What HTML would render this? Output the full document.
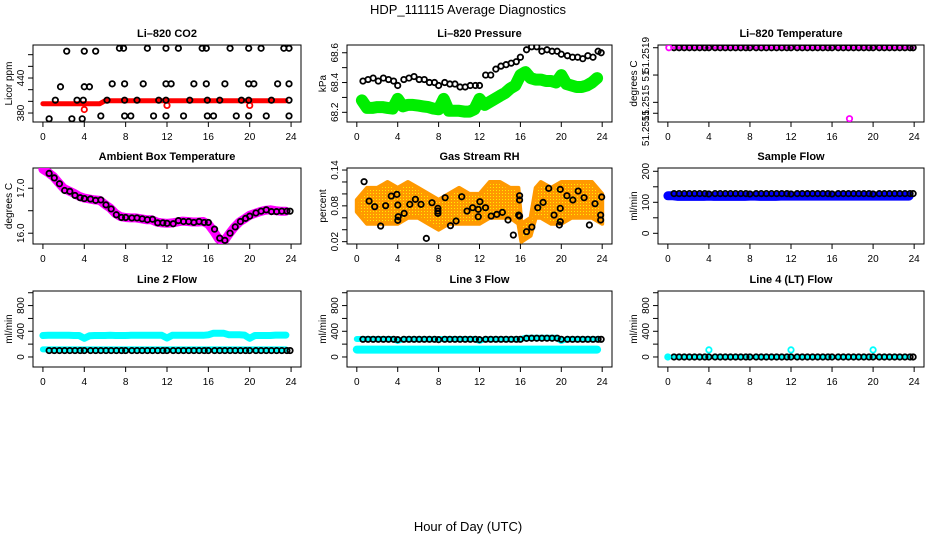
<!DOCTYPE html>
<html><head><meta charset="utf-8"><style>
body{margin:0;background:#fff}
svg{display:block;font-family:"Liberation Sans",sans-serif}
</style></head><body>
<svg id="chart" width="936" height="540" xmlns="http://www.w3.org/2000/svg">
<defs>
<pattern id="rhdots" width="3" height="3" patternUnits="userSpaceOnUse"><rect width="3" height="3" fill="#ff9900"/><rect x="1" y="1" width="1" height="1" fill="#ffee00"/></pattern>
</defs>
<text x="468" y="14" text-anchor="middle" font-size="13">HDP_111115  Average Diagnostics</text>
<text x="468" y="531" text-anchor="middle" font-size="13">Hour of Day (UTC)</text>
</svg>
<script>
// ---------- data ----------
const xTicks = [0,4,8,12,16,20,24];
const hoursB = [0.6,1.1,1.6,2.1,2.6,3.1,3.6,4.0,4.6,5.1,5.6,6.1,6.6,7.1,7.6,8.0,8.6,9.1,9.6,10.1,10.6,11.1,11.6,12.0,12.6,13.1,13.6,14.1,14.6,15.1,15.6,16.0,16.6,17.1,17.6,18.1,18.6,19.1,19.6,20.0,20.6,21.1,21.6,22.1,22.6,23.1,23.6,23.9];
const hoursBand = [0,0.5,1,1.5,2,2.5,3,3.5,4,4.5,5,5.5,6,6.5,7,7.5,8,8.5,9,9.5,10,10.5,11,11.5,12,12.5,13,13.5,14,14.5,15,15.5,16,16.5,17,17.5,18,18.5,19,19.5,20,20.5,21,21.5,22,22.5,23,23.5,24];

// Panel 1 CO2
const co2Hours = [7.4,7.8,10.1,11.9,13.1,15.4,15.8,18.1,19.9,21.1,23.3,23.8, 2.3,4.0,5.1, 1.7,4.0,4.5, 6.7,7.9,9.7,11.9,12.4,14.6,15.8,17.6,19.9,20.4,22.7,23.8, 1.2,3.3,3.9,6.2,7.9,9.1,11.2,11.9,14.2,15.9,17.1,19.2,19.9,22.1,23.8, 5.6,7.9,8.5,10.7,11.9,13.6,15.9,16.5,18.7,19.9,21.6,23.8, 0.6,2.8,3.8];
const co2Black = [491,491,491,491,491,491,491,491,491,491,491,491, 486,486,486, 425,425,425, 430,430,430,430,430,430,430,430,430,430,430,430, 402,402,402,402,402,402,402,402,402,402,402,402,402,402,402, 375,375,375,375,375,375,375,375,375,375,375,375, 370,370,370];
const co2Red = [396,396,396,396,396,396,396,396,396,396,396,396,401,401,401,401,401,401,401,401,401,401,401,401,401,401,401,401,401,401,401,401,401,401,401,401,401,401,401,401,401,401,401,401,401,401,401,401,401];
const co2RedPtHours = [4,12,20];
const co2RedPts = [386,393,393];

// Panel 2 pressure
const presBlack = [68.41,68.42,68.43,68.41,68.43,68.42,68.41,68.38,68.42,68.43,68.44,68.42,68.42,68.40,68.40,68.38,68.40,68.39,68.39,68.37,68.37,68.38,68.38,68.38,68.45,68.45,68.49,68.51,68.52,68.53,68.54,68.57,68.62,68.64,68.64,68.61,68.62,68.61,68.61,68.59,68.58,68.57,68.57,68.56,68.58,68.57,68.61,68.60];
const presGreen = [68.28,68.28,68.23,68.23,68.235,68.235,68.23,68.225,68.29,68.24,68.25,68.25,68.245,68.24,68.235,68.225,68.22,68.29,68.21,68.21,68.21,68.205,68.205,68.22,68.29,68.25,68.27,68.29,68.31,68.33,68.36,68.38,68.45,68.47,68.43,68.42,68.42,68.41,68.41,68.40,68.45,68.39,68.38,68.37,68.37,68.38,68.40,68.43,68.43];

// Panel 3 Li-820 temperature
const tempBlack = [51.2519,51.2519,51.2519,51.2519,51.2519,51.2519,51.2519,51.2519,51.2519,51.2519,51.2519,51.2519,51.2519,51.2519,51.2519,51.2519,51.2519,51.2519,51.2519,51.2519,51.2519,51.2519,51.2519,51.2519,51.2519,51.2519,51.2519,51.2519,51.2519,51.2519,51.2519,51.2519,51.2519,51.2519,51.2519,51.2519,51.2519,51.2519,51.2519,51.2519,51.2519,51.2519,51.2519,51.2519,51.2519,51.2519,51.2519,51.2519];
const tempMagHours = [0.1,17.7];
const tempMag = [51.2519,51.25138];

// Panel 4 ambient
const ambBlack = [17.33,17.23,17.10,16.95,16.93,16.84,16.79,16.77,16.76,16.73,16.74,16.63,16.54,16.41,16.35,16.35,16.34,16.34,16.32,16.30,16.31,16.23,16.23,16.22,16.21,16.28,16.26,16.26,16.24,16.26,16.24,16.24,16.09,15.89,15.84,16.00,16.14,16.26,16.33,16.38,16.45,16.49,16.52,16.48,16.48,16.49,16.49,16.49];
const ambMag = [17.42,17.35,17.26,17.13,17.0,16.94,16.89,16.82,16.78,16.76,16.74,16.73,16.64,16.56,16.44,16.37,16.35,16.34,16.34,16.32,16.3,16.3,16.25,16.23,16.22,16.23,16.25,16.27,16.26,16.25,16.25,16.26,16.2,16.05,15.87,15.82,15.98,16.13,16.25,16.32,16.4,16.44,16.48,16.51,16.52,16.5,16.49,16.49,16.49];

// Panel 5 RH
const rhBandHours = [0,1,2,3,4,5,6,7,8,9,10,11,12,13,14,15,15.8,16.1,17,17.5,18,19,20,21,22,23,24];
const rhLow = [0.07,0.05,0.05,0.05,0.05,0.06,0.06,0.05,0.04,0.05,0.05,0.05,0.05,0.06,0.06,0.06,0.05,0.02,0.03,0.06,0.06,0.05,0.05,0.06,0.06,0.06,0.05];
const rhHigh = [0.09,0.11,0.11,0.12,0.11,0.12,0.11,0.10,0.09,0.10,0.11,0.10,0.10,0.12,0.12,0.11,0.11,0.05,0.06,0.11,0.12,0.11,0.12,0.12,0.12,0.12,0.10];
const rhHours = [0.71,1.20,1.75,2.33,2.82,3.37,3.92,4.01,4.05,4.01,4.63,5.18,5.73,6.28,6.80,7.35,7.93,7.93,7.93,8.64,9.16,9.71,10.26,10.78,11.33,11.88,11.88,12.04,12.59,13.14,13.69,14.24,14.79,15.31,15.92,15.92,15.83,15.92,16.60,17.12,17.70,18.22,18.77,19.29,19.81,19.90,19.90,19.90,20.55,21.13,21.65,22.23,22.75,23.30,23.85,23.85,23.95];
const rhBlack = [0.1205,0.088,0.0786,0.0462,0.0803,0.0964,0.0992,0.0814,0.0618,0.0557,0.0674,0.0825,0.0909,0.0825,0.0255,0.0853,0.0758,0.0674,0.0713,0.0937,0.0468,0.0546,0.0953,0.0713,0.0769,0.0741,0.0618,0.0870,0.0769,0.0629,0.0657,0.0691,0.0563,0.0311,0.0970,0.0898,0.0646,0.0629,0.0367,0.0445,0.0769,0.0858,0.1093,0.0646,0.0479,0.0758,0.0535,0.1076,0.0970,0.0898,0.1048,0.0937,0.0479,0.0836,0.0646,0.0563,0.0948];

// Panel 6 sample flow
const sampBlack = [128,128,128,128,128,128,128,127,128,128,128,128,128,128,128,127,128,128,128,128,128,128,128,127,128,128,128,128,128,128,128,127,128,128,128,128,128,128,128,127,128,128,128,128,128,128,128,128];
const sampBlue = [121,121,119,119,119,119,119,119,120,119,119,119,119,119,119,119,120,120,119,119,119,119,120,120,120,120,120,120,120,120,120,120,120,120,120,120,120,120,120,120,120,120,120,120,120,120,120,120,120];

// Panel 7 line 2
const l2Black = [100,100,100,100,100,100,100,100,100,100,100,100,100,100,100,100,100,100,100,100,100,100,100,100,100,100,100,100,100,100,100,100,100,100,100,100,100,100,100,100,100,100,100,100,100,100,100,100];
const l2CyanHigh = [335,338,338,338,338,338,335,335,290,330,335,335,335,338,335,335,335,338,338,338,338,338,338,338,295,338,338,338,338,338,338,338,345,370,370,368,345,345,345,340,290,335,335,335,335,340,340,340,335];
const l2CyanLow = [118,118,118,118,118,118,118,118,118,118,118,118,118,118,118,118,118,118,118,118,118,118,118,118,118,118,118,118,118,118,118,118,118,118,118,118,118,118,118,118,118,118,118,118,118,118,118,118,118];

// Panel 8 line 3
const l3Black = [275,275,275,275,275,275,275,270,275,275,275,275,275,275,275,270,275,275,275,275,275,275,275,270,275,275,275,275,275,275,275,275,290,292,292,292,292,292,292,275,275,275,275,275,275,275,275,275];
const l3CyanHigh = [280,280,280,280,280,280,280,280,250,275,275,275,275,275,275,275,275,280,280,280,280,280,280,280,250,275,275,275,275,275,275,275,275,300,300,300,300,300,300,300,250,275,275,275,275,275,275,275,275];
const l3CyanLow = [115,115,115,115,115,115,115,115,115,115,115,115,115,115,115,115,115,115,115,115,115,115,115,115,115,115,115,115,115,115,115,115,115,115,115,115,115,115,115,115,115,115,115,115,115,115,115,115,115];

// Panel 9 line 4
const l4Black = [0,0,0,0,0,0,0,0,0,0,0,0,0,0,0,0,0,0,0,0,0,0,0,0,0,0,0,0,0,0,0,0,0,0,0,0,0,0,0,0,0,0,0,0,0,0,0,0];
const l4CyanBand = [0,0,0,0,0,0,0,0,0,0,0,0,0,0,0,0,0,0,0,0,0,0,0,0,0,0,0,0,0,0,0,0,0,0,0,0,0,0,0,0,0,0,0,0,0,0,0,0,0];
const l4CyanHours = [0,4,12,20];
const l4Cyan = [0,110,110,110];

// ---------- drawing ----------
const svg = document.getElementById('chart');
const NS = 'http://www.w3.org/2000/svg';
function mk(tag, attrs, parent){
  const e = document.createElementNS(NS, tag);
  for (const k in attrs) e.setAttribute(k, attrs[k]);
  (parent||svg).appendChild(e);
  return e;
}
const colL = [33,347,658], colR = [301,612,924];
const rowT = [45,168,291], rowB = [122,244,367];

function makePanel(col,row,title,ylab,yDom,yTicks,yLabels,slug){
  const L=colL[col], R=colR[col], T=rowT[row], B=rowB[row];
  const g = mk('g',{});
  
  
  const x = h => L + (h+0.96)/25.92*(R-L);
  const y = v => B - (v-yDom[0])/(yDom[1]-yDom[0])*(B-T);
  const box = mk('rect',{x:L,y:T,width:R-L,height:B-T,fill:'none',stroke:'#000','stroke-width':1},g);
  
  
  const t = mk('text',{x:(L+R)/2,y:T-8,'text-anchor':'middle','font-size':11,'font-weight':'bold'},g);
  t.textContent = title;
  
  
  const xa = mk('g',{},g);
  
  
  mk('line',{x1:x(xTicks[0]),x2:x(xTicks[xTicks.length-1]),y1:B,y2:B,stroke:'#000'},xa);
  xTicks.forEach(v=>{
    mk('line',{x1:x(v),x2:x(v),y1:B,y2:B+5,stroke:'#000'},xa);
    const tl = mk('text',{x:x(v),y:B+18,'text-anchor':'middle','font-size':10},xa);
    tl.textContent = v;
    
    
  });
  const ya = mk('g',{},g);
  
  
  mk('line',{x1:L,x2:L,y1:y(yTicks[0]),y2:y(yTicks[yTicks.length-1]),stroke:'#000'},ya);
  yTicks.forEach(v=>{ mk('line',{x1:L-5,x2:L,y1:y(v),y2:y(v),stroke:'#000'},ya); });
  yLabels.forEach(p=>{
    const yy = p.py!==undefined ? p.py : y(p.v);
    const tl = mk('text',{x:0,y:0,'text-anchor':'middle','font-size':10,transform:`translate(${L-9},${yy}) rotate(-90)`},ya);
    tl.textContent = p.t;
    
    
  });
  const yl = mk('text',{x:0,y:0,'text-anchor':'middle','font-size':10,transform:`translate(${L-21},${(T+B)/2}) rotate(-90)`},g);
  yl.textContent = ylab;
  
  
  const clip = 'clip-'+slug;
  const cp = mk('clipPath',{id:clip},g);
  mk('rect',{x:L,y:T,width:R-L,height:B-T},cp);
  const marks = mk('g',{'clip-path':`url(#${clip})`},g);
  
  
  return {x,y,marks};
}
function points(p,hs,vs,color,name,r){
  hs.forEach((h,i)=>{
    const c = mk('circle',{cx:p.x(h),cy:p.y(vs[i]),r:r||2.7,fill:'none',stroke:color,'stroke-width':1.8},p.marks);
    
    
  });
}
function band(p,hs,vs,color,w,name,t0,t1){
  let d='';
  hs.forEach((h,i)=>{
    if (t0!==undefined && (h<t0||h>t1)) return;
    d += (d?'L':'M')+p.x(h).toFixed(1)+','+p.y(vs[i]).toFixed(1);
  });
  const e = mk('path',{d,fill:'none',stroke:color,'stroke-width':w,'stroke-linecap':'round','stroke-linejoin':'round'},p.marks);
  
  
}
function lbls(arr){ return arr.map(v=>({v,t:String(v)})); }

let p = makePanel(0,0,'Li–820 CO2','Licor ppm',[364.6,496.6],[380,400,420,440,460,480],lbls([380,440]),'co2');
band(p,hoursBand,co2Red,'#ff0000',5,'co2-red-band',0,23.9);
points(p,co2RedPtHours,co2RedPts,'#ff0000','co2-red-point');
points(p,co2Hours,co2Black,'#000','co2-black-point');

p = makePanel(1,0,'Li–820 Pressure','kPa',[68.135,68.652],[68.2,68.3,68.4,68.5,68.6],[{v:68.2,t:'68.2'},{v:68.4,t:'68.4'},{v:68.6,t:'68.6'}],'pressure');
band(p,hoursBand,presGreen,'#00ee00',12,'pressure-green-band',0.2,23.9);
points(p,hoursB,presBlack,'#000','pressure-black-point');

p = makePanel(2,0,'Li–820 Temperature','degrees C',[51.251356,51.25192],[51.2519,51.2517,51.2515,51.25142],[{py:55,t:'51.2519'},{py:76,t:'51'},{py:103,t:'51.2515'},{py:128,t:'51.2515'}],'li820-temp');
band(p,hoursB,tempBlack,'#ff00ff',3,'li820-temp-magenta-band');
points(p,hoursB,tempBlack,'#000','li820-temp-black-point');
points(p,tempMagHours,tempMag,'#ff00ff','li820-temp-magenta-point');

p = makePanel(0,1,'Ambient Box Temperature','degrees C',[15.76,17.45],[16,16.5,17],[{v:16,t:'16.0'},{v:17,t:'17.0'}],'ambient');
band(p,hoursBand,ambMag,'#ff00ff',9,'ambient-magenta-band',0,23.9);
points(p,hoursB,ambBlack,'#000','ambient-black-point');

p = makePanel(1,1,'Gas Stream RH','percent',[0.0161,0.1434],[0.02,0.04,0.06,0.08,0.10,0.12,0.14],lbls([0.02,0.08,0.14]),'rh');
{
  let d='';
  rhBandHours.forEach((h,i)=>{ d += (d?'L':'M')+p.x(h).toFixed(1)+','+p.y(rhHigh[i]).toFixed(1); });
  for (let i=rhBandHours.length-1;i>=0;i--) d += 'L'+p.x(rhBandHours[i]).toFixed(1)+','+p.y(rhLow[i]).toFixed(1);
  const e = mk('path',{d:d+'Z',fill:'url(#rhdots)',stroke:'#ff9900','stroke-width':4,'stroke-linejoin':'round'},p.marks);
  
  
}
points(p,rhHours,rhBlack,'#000','rh-black-point');

p = makePanel(2,1,'Sample Flow','ml/min',[-34.5,210.6],[0,50,100,150,200],lbls([0,100,200]),'sample-flow');
band(p,hoursBand,sampBlue,'#0000ff',9,'sample-flow-blue-band',0,23.9);
points(p,hoursB,sampBlack,'#000','sample-flow-black-point');

const flowTicks=[0,200,400,600,800,1000], flowLbl=lbls([0,400,800]);
p = makePanel(0,2,'Line 2 Flow','ml/min',[-156,1027],flowTicks,flowLbl,'line2');
band(p,hoursBand,l2CyanHigh,'#00ffff',7,'line2-cyan-high-band',0,23.9);
band(p,hoursBand,l2CyanLow,'#00ffff',6,'line2-cyan-low-band',0,23.9);
points(p,hoursB,l2Black,'#000','line2-black-point');

p = makePanel(1,2,'Line 3 Flow','ml/min',[-156,1027],flowTicks,flowLbl,'line3');
band(p,hoursBand,l3CyanHigh,'#00ffff',6,'line3-cyan-high-band',0,23.9);
band(p,hoursBand,l3CyanLow,'#00ffff',8,'line3-cyan-low-band',0,23.9);
points(p,hoursB,l3Black,'#000','line3-black-point');

p = makePanel(2,2,'Line 4 (LT) Flow','ml/min',[-156,1027],flowTicks,flowLbl,'line4');
band(p,hoursBand,l4CyanBand,'#00ffff',4,'line4-cyan-band',0,23.9);
points(p,hoursB,l4Black,'#000','line4-black-point');
points(p,l4CyanHours,l4Cyan,'#00ffff','line4-cyan-point');
</script>
</body></html>
